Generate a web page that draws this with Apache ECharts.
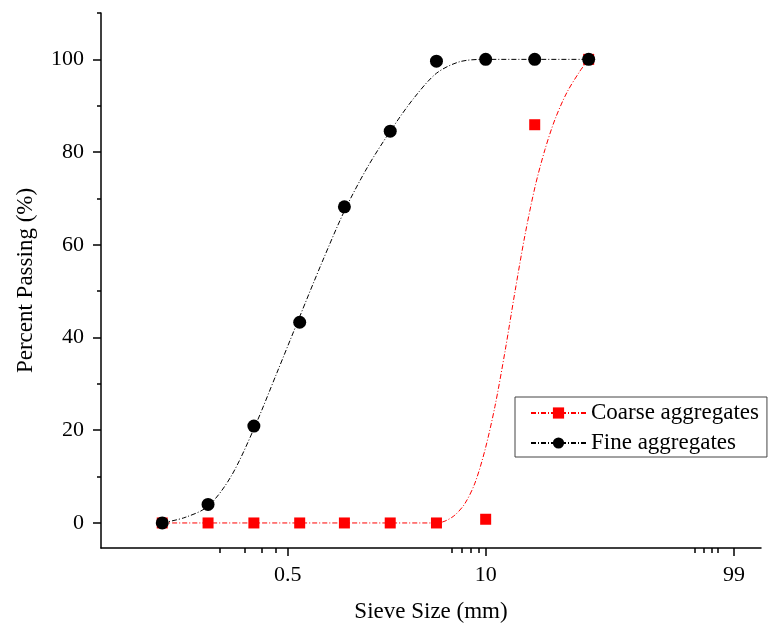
<!DOCTYPE html>
<html>
<head>
<meta charset="utf-8">
<script src="https://cdn.jsdelivr.net/npm/echarts@6/dist/echarts.min.js"></script>
<style>
  html, body { margin: 0; padding: 0; background: #fff; }
  #main { width: 768px; height: 631px; }
</style>
</head>
<body>
<div id="main"></div>
<script>
  // measured points
  var sieveSizes = [0.075, 0.15, 0.3, 0.6, 1.18, 2.36, 4.75, 10, 21, 47.5];
  var coarsePassing = [0, 0, 0, 0, 0, 0, 0, 0.8, 85.9, 100];
  var finePassing = [0, 4.0, 20.9, 43.3, 68.2, 84.5, 99.6, 100, 100, 100];

  // fitted curves
  var coarseFitX = [0.075, 0.15, 0.3, 0.6, 1.18, 2.36, 4.75, 5.4, 6.28, 7.31, 8.5, 9.89, 11.5, 13.4, 15.6, 18.1, 21.1, 24.5, 28.5, 34.1, 41.7, 47.5];
  var coarseFitY = [0, 0, 0, 0, 0, 0, 0, 0.4, 1.7, 4.2, 8.6, 15.7, 25.1, 37, 50, 62, 72.5, 80.5, 87, 92.8, 97.5, 100];
  var fineFitX = [0.075, 0.106, 0.15, 0.212, 0.3, 0.424, 0.6, 0.843, 1.18, 1.67, 2.36, 3.35, 4.75, 6.77, 10, 21, 47.5];
  var fineFitY = [0, 1.2, 3.6, 10, 20.3, 32.3, 44.5, 56.3, 67.3, 76.7, 84.5, 91.5, 97, 99.5, 100, 100, 100];

  // axis ticks as drawn in the picture
  var xTickValues = [0.5, 10, 428];
  var xTickLabels = ['0.5', '10', '99'];
  var xMinorTicks = [0.18, 0.26, 0.34, 0.42, 6, 7, 8, 9, 237, 272, 307, 336];
  var yTickValues = [0, 20, 40, 60, 80, 100];
  var yMinorTicks = [10, 30, 50, 70, 90, 110];

  var font = 'Liberation Serif';
  var dashDot = [5, 2, 1, 2];

  function pairs(xs, ys) {
    return xs.map(function (x, i) { return [x, ys[i]]; });
  }

  var myChart = echarts.init(document.getElementById('main'));

  var option = {
    animation: false,
    backgroundColor: '#fff',
    grid: { left: 101, right: 7, top: 13, bottom: 83, containLabel: false },
    legend: {
      orient: 'vertical',
      left: 515,
      top: 397,
      data: ['Coarse aggregates', 'Fine aggregates'],
      itemWidth: 55,
      itemHeight: 14,
      itemGap: 6,
      padding: [4, 8, 2, 15],
      borderColor: '#444',
      borderWidth: 1,
      backgroundColor: '#fff',
      textStyle: { fontFamily: font, fontSize: 23, color: '#000', lineHeight: 24 }
    },
    xAxis: [{
      type: 'log',
      logBase: 10,
      min: 0.0297,
      max: 644,
      name: 'Sieve Size (mm)',
      nameLocation: 'middle',
      nameGap: 52,
      nameTextStyle: { fontFamily: font, fontSize: 23, color: '#000' },
      splitLine: { show: false },
      axisLine: { onZero: false, lineStyle: { color: '#000', width: 1.5 } },
      axisTick: { show: true, inside: false, length: 8, customValues: xTickValues, lineStyle: { color: '#000', width: 1.5 } },
      axisLabel: {
        customValues: xTickValues,
        margin: 16,
        fontFamily: font, fontSize: 22, color: '#000',
        formatter: function (v) {
          var i = xTickValues.indexOf(v);
          return i >= 0 ? xTickLabels[i] : '';
        }
      }
    }, {
      type: 'log',
      logBase: 10,
      min: 0.0297,
      max: 644,
      position: 'bottom',
      splitLine: { show: false },
      axisLine: { show: false, onZero: false },
      axisTick: { show: true, inside: false, length: 5, customValues: xMinorTicks, lineStyle: { color: '#000', width: 1.5 } },
      axisLabel: { show: false }
    }],
    yAxis: [{
      type: 'value',
      min: -5.4,
      max: 110,
      name: 'Percent Passing (%)',
      nameLocation: 'middle',
      nameGap: 64,
      nameTextStyle: { fontFamily: font, fontSize: 23, color: '#000' },
      splitLine: { show: false },
      axisLine: { show: true, onZero: false, lineStyle: { color: '#000', width: 1.5 } },
      axisTick: { show: true, inside: false, length: 8, customValues: yTickValues, lineStyle: { color: '#000', width: 1.5 } },
      axisLabel: { customValues: yTickValues, margin: 17, fontFamily: font, fontSize: 22, color: '#000' }
    }, {
      type: 'value',
      min: -5.4,
      max: 110,
      position: 'left',
      splitLine: { show: false },
      axisLine: { show: false, onZero: false },
      axisTick: { show: true, inside: false, length: 4, customValues: yMinorTicks, lineStyle: { color: '#000', width: 1.5 } },
      axisLabel: { show: false }
    }],
    series: [{
      name: 'Coarse aggregates',
      type: 'line',
      smooth: 0.3,
      symbol: 'rect',
      showSymbol: false,
      itemStyle: { color: '#ff0000' },
      lineStyle: { color: '#ff0000', width: 1, type: dashDot },
      data: pairs(coarseFitX, coarseFitY),
      z: 2
    }, {
      name: 'Fine aggregates',
      type: 'line',
      smooth: 0.3,
      symbol: 'circle',
      showSymbol: false,
      itemStyle: { color: '#000' },
      lineStyle: { color: '#000', width: 1, type: dashDot },
      data: pairs(fineFitX, fineFitY),
      z: 2
    }, {
      name: 'Coarse points',
      type: 'scatter',
      symbol: 'rect',
      symbolSize: 11,
      itemStyle: { color: '#ff0000', opacity: 1 },
      data: pairs(sieveSizes, coarsePassing),
      z: 3
    }, {
      name: 'Fine points',
      type: 'scatter',
      symbol: 'circle',
      symbolSize: 13,
      itemStyle: { color: '#000', opacity: 1 },
      data: pairs(sieveSizes, finePassing),
      z: 4
    }]
  };

  myChart.setOption(option);
</script>
</body>
</html>
